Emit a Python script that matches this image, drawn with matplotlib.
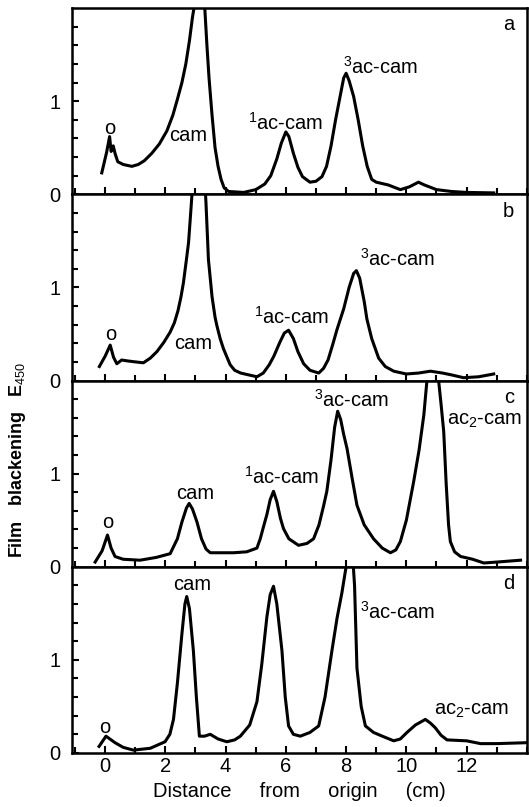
import matplotlib
matplotlib.use('Agg')
from matplotlib import pyplot as plt
import matplotlib.ticker as ticker

plt.rcParams['font.family'] = ['Liberation Sans', 'DejaVu Sans']
plt.rcParams['mathtext.fontset'] = 'custom'
plt.rcParams['mathtext.rm'] = 'Liberation Sans'

# panel a
x_a = [-0.11, 0.05, 0.15, 0.2, 0.27, 0.33, 0.42, 0.6, 0.89, 1.1, 1.3, 1.55, 1.8, 2.05, 2.25, 2.4, 2.55,
       2.68, 2.8, 2.9, 3.0, 3.15, 3.3, 3.38, 3.45, 3.55, 3.65, 3.75, 3.85, 3.95, 4.1, 4.6, 5.0, 5.3, 5.5,
       5.7, 5.85, 6.0, 6.1, 6.25, 6.4, 6.55, 6.8, 7.0, 7.2, 7.35, 7.5, 7.65, 7.8, 7.92, 8.0, 8.1, 8.25,
       8.4, 8.55, 8.7, 8.85, 9.0, 9.4, 9.8, 10.1, 10.4, 10.6, 11.0, 11.5, 12.0, 12.9]
y_a = [0.23, 0.45, 0.62, 0.46, 0.52, 0.44, 0.35, 0.32, 0.30, 0.32, 0.36, 0.44, 0.54, 0.68, 0.85, 1.02, 1.2,
       1.4, 1.65, 1.9, 2.1, 2.2, 2.05, 1.6, 1.25, 0.85, 0.5, 0.3, 0.16, 0.07, 0.03, 0.02, 0.05, 0.11, 0.2,
       0.38, 0.55, 0.67, 0.62, 0.44, 0.29, 0.19, 0.13, 0.14, 0.19, 0.3, 0.52, 0.8, 1.05, 1.25, 1.3, 1.22, 1.05,
       0.8, 0.52, 0.3, 0.16, 0.13, 0.1, 0.05, 0.08, 0.13, 0.1, 0.05, 0.03, 0.02, 0.015]

# panel b
x_b = [-0.19, 0.0, 0.17, 0.28, 0.39, 0.55, 0.75, 1.0, 1.27, 1.5, 1.72, 1.95, 2.16, 2.3, 2.42, 2.52, 2.6,
       2.7, 2.77, 2.83, 2.88, 2.95, 3.1, 3.3, 3.35, 3.43, 3.55, 3.65, 3.71, 3.82, 3.93, 4.15, 4.3, 4.5, 5.04,
       5.25, 5.45, 5.6, 5.8, 5.95, 6.09, 6.25, 6.4, 6.59, 6.8, 7.09, 7.25, 7.4, 7.55, 7.7, 7.92, 8.1, 8.25,
       8.34, 8.45, 8.6, 8.69, 8.85, 9.08, 9.3, 9.58, 10.0, 10.4, 10.8, 11.2, 11.5, 11.9, 12.4, 12.9]
y_b = [0.15, 0.26, 0.38, 0.25, 0.18, 0.22, 0.21, 0.20, 0.19, 0.24, 0.31, 0.41, 0.52, 0.62, 0.75, 0.9, 1.05,
       1.3, 1.48, 1.75, 1.98, 2.3, 2.4, 2.2, 1.9, 1.30, 0.9, 0.68, 0.59, 0.45, 0.34, 0.17, 0.11, 0.08, 0.04,
       0.08, 0.17, 0.26, 0.41, 0.51, 0.54, 0.45, 0.31, 0.18, 0.11, 0.08, 0.13, 0.22, 0.38, 0.55, 0.77, 1.0, 1.15,
       1.18, 1.1, 0.85, 0.66, 0.45, 0.24, 0.15, 0.10, 0.07, 0.08, 0.10, 0.08, 0.06, 0.03, 0.04, 0.07]

# panel c
x_c = [-0.33, -0.1, 0.08, 0.2, 0.33, 0.6, 1.16, 1.7, 2.16, 2.4, 2.55, 2.7, 2.79, 2.9, 3.05, 3.2, 3.35,
       3.49, 4.26, 4.7, 5.04, 5.15, 5.25, 5.37, 5.48, 5.59, 5.7, 5.82, 5.92, 6.1, 6.42, 6.7, 6.92, 7.1,
       7.25, 7.36, 7.5, 7.62, 7.72, 7.82, 7.92, 8.03, 8.2, 8.36, 8.6, 8.91, 9.2, 9.47, 9.65, 9.8, 10.0,
       10.24, 10.42, 10.58, 10.68, 10.8, 10.95, 11.07, 11.15, 11.24, 11.32, 11.4, 11.46, 11.6, 11.8, 12.2,
       12.57, 13.0, 13.79]
y_c = [0.05, 0.17, 0.34, 0.2, 0.11, 0.08, 0.07, 0.1, 0.14, 0.3, 0.48, 0.63, 0.68, 0.62, 0.48, 0.3, 0.19,
       0.15, 0.15, 0.16, 0.2, 0.30, 0.42, 0.56, 0.72, 0.81, 0.7, 0.52, 0.41, 0.3, 0.23, 0.25, 0.30, 0.45,
       0.65, 0.81, 1.15, 1.5, 1.67, 1.58, 1.42, 1.27, 0.95, 0.66, 0.45, 0.30, 0.2, 0.15, 0.18, 0.27, 0.5,
       0.91, 1.25, 1.63, 1.99, 2.3, 2.3, 2.0, 1.75, 1.45, 0.9, 0.45, 0.27, 0.16, 0.11, 0.08,
       0.04, 0.05, 0.07]

# panel d
x_d = [-0.2, 0.03, 0.33, 0.6, 0.94, 1.5, 1.99, 2.15, 2.27, 2.4, 2.55, 2.65, 2.71, 2.8, 2.93, 3.03, 3.13,
       3.3, 3.49, 3.75, 4.04, 4.3, 4.49, 4.8, 5.04, 5.2, 5.37, 5.48, 5.59, 5.7, 5.87, 5.98, 6.09, 6.25,
       6.48, 6.8, 7.09, 7.3, 7.53, 7.7, 7.86, 8.0, 8.1, 8.2, 8.28, 8.36, 8.5, 8.64, 8.91, 9.2, 9.58, 9.8,
       10.02, 10.3, 10.63, 10.8, 10.96, 11.15, 11.35, 12.0, 12.46, 13.0, 14.0]
y_d = [0.07, 0.18, 0.11, 0.06, 0.03, 0.05, 0.12, 0.2, 0.36, 0.75, 1.28, 1.6, 1.68, 1.55, 1.10, 0.6, 0.18,
       0.18, 0.20, 0.15, 0.12, 0.14, 0.18, 0.3, 0.55, 0.95, 1.46, 1.7, 1.79, 1.6, 1.10, 0.6, 0.29, 0.2,
       0.18, 0.22, 0.29, 0.6, 1.10, 1.45, 1.72, 2.0, 2.3, 2.2, 1.8, 0.91, 0.5, 0.29, 0.22, 0.18, 0.13, 0.15,
       0.22, 0.3, 0.36, 0.32, 0.27, 0.19, 0.14, 0.13, 0.10, 0.1, 0.11]

panel_letters = ['a', 'b', 'c', 'd']
xticks = [0, 2, 4, 6, 8, 10, 12]

# labels: (text, x, y)
labels_a = [('o', 0.17, 0.71), ('cam', 2.75, 0.63), ('$^{1}$ac-cam', 6.0, 0.77), ('$^{3}$ac-cam', 9.15, 1.37)]
labels_b = [('o', 0.2, 0.49), ('cam', 2.93, 0.40), ('$^{1}$ac-cam', 6.2, 0.68), ('$^{3}$ac-cam', 9.7, 1.31)]
labels_c = [('o', 0.08, 0.47), ('cam', 3.0, 0.79), ('$^{1}$ac-cam', 5.85, 0.97), ('$^{3}$ac-cam', 8.17, 1.79),
            ('ac$_{2}$-cam', 12.6, 1.57)]
labels_d = [('o', 0.0, 0.27), ('cam', 2.88, 1.81), ('$^{3}$ac-cam', 9.72, 1.52), ('ac$_{2}$-cam', 12.18, 0.46)]

FS = 14.5

fig = plt.figure(figsize=(5.29, 8.07), dpi=100)
gs = fig.add_gridspec(4, 1, left=0.136, right=0.996, top=0.99, bottom=0.067, hspace=0)
axes = [fig.add_subplot(gs[i]) for i in range(4)]

series = [(x_a, y_a, labels_a), (x_b, y_b, labels_b), (x_c, y_c, labels_c), (x_d, y_d, labels_d)]
for i, (axe, (x, y, labels)) in enumerate(zip(axes, series)):
    axe.plot(x, y, color='black', linewidth=2.2, solid_joinstyle='round')
    axe.set_xlim(-1.1, 14.0)
    axe.set_ylim(0, 2.0)
    for sp in axe.spines.values():
        sp.set_linewidth(1.8)
    axe.xaxis.set_major_locator(ticker.FixedLocator(xticks))
    axe.xaxis.set_minor_locator(ticker.MultipleLocator(1))
    axe.yaxis.set_major_locator(ticker.FixedLocator([0, 1]))
    axe.yaxis.set_minor_locator(ticker.FixedLocator([0.2, 0.4, 0.6, 0.8, 1.2, 1.4, 1.6, 1.8]))
    axe.tick_params(which='both', direction='in', width=1.5, labelsize=FS, top=False, right=False)
    axe.tick_params(which='major', length=5)
    axe.tick_params(which='minor', length=4)
    axe.tick_params(axis='y', pad=8)
    axe.tick_params(axis='x', pad=3)
    if i < 3:
        axe.tick_params(axis='x', labelbottom=False)
    for text, tx, ty in labels:
        axe.text(tx, ty, text, ha='center', va='center', fontsize=FS)
    axe.text(13.4, 1.82, panel_letters[i], ha='center', va='center', fontsize=FS)

axes[3].set_xlabel('Distance     from     origin     (cm)', fontsize=FS, labelpad=4)
fig.text(0.034, 0.43, 'Film   blackening   E$_{450}$', rotation=90, ha='center', va='center',
         fontsize=13, fontweight='bold')

fig.savefig('out.png', dpi=100)
